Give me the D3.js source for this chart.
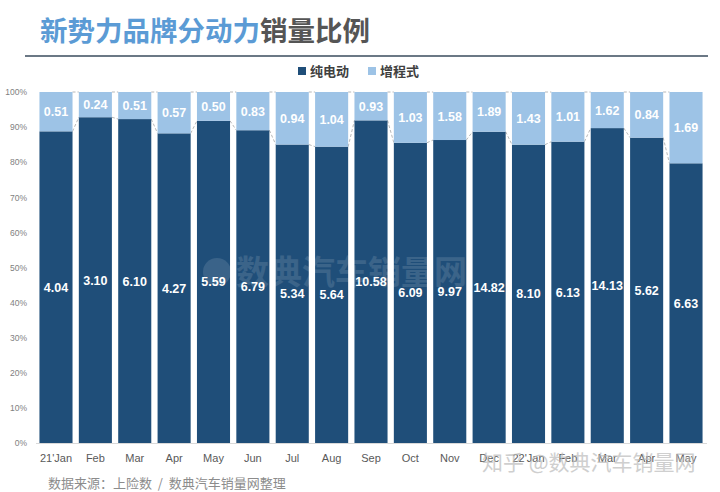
<!DOCTYPE html>
<html><head><meta charset="utf-8">
<script src="https://cdn.jsdelivr.net/npm/d3@7"></script>
<style>body{margin:0;background:#fff;}svg{display:block;font-family:"Noto Sans CJK SC","Liberation Sans",sans-serif;}</style>
</head><body><svg id="c" width="720" height="492"></svg>
<script>
const categories = ["21'Jan","Feb","Mar","Apr","May","Jun","Jul","Aug","Sep","Oct","Nov","Dec","22'Jan","Feb ","Mar ","Apr ","May "];
const bev = [4.04,3.10,6.10,4.27,5.59,6.79,5.34,5.64,10.58,6.09,9.97,14.82,8.10,6.13,14.13,5.62,6.63];
const erev = [0.51,0.24,0.51,0.57,0.50,0.83,0.94,1.04,0.93,1.03,1.58,1.89,1.43,1.01,1.62,0.84,1.69];
const seriesNames = ["纯电动","增程式"];
const yTicks = [0,0.1,0.2,0.3,0.4,0.5,0.6,0.7,0.8,0.9,1.0];
const colors = ["#1f4e79","#9dc3e6"];

const svg = d3.select("#c");
const x = d3.scaleBand().domain(categories).range([36.3,705.7]).paddingInner(0.16).paddingOuter(0.08);
const y = d3.scaleLinear().domain([0,1]).range([443,92]);

// title
const t = svg.append("text").attr("x",40).attr("y",41).attr("font-size",27.5).attr("font-weight","bold");
t.append("tspan").attr("fill","#5b9bd5").text("新势力品牌分动力");
t.append("tspan").attr("fill","#555").text("销量比例");
svg.append("line").attr("x1",25).attr("x2",708).attr("y1",56).attr("y2",56).attr("stroke","#6b7885").attr("stroke-width",2);

// legend
const lg = svg.append("g").attr("transform","translate(298,76)");
seriesNames.forEach((n,i)=>{
  const g = lg.append("g").attr("transform",`translate(${i*70},0)`);
  g.append("rect").attr("x",0).attr("y",-9).attr("width",8).attr("height",8).attr("fill",colors[i]);
  g.append("text").attr("x",12).attr("y",0).attr("font-size",13).attr("font-weight","bold").attr("fill","#404040").text(n);
});

// y axis
const ya = svg.append("g").attr("transform","translate(30,0)")
  .call(d3.axisLeft(y).tickValues(yTicks).tickFormat(d3.format(".0%")).tickSize(0));
ya.select(".domain").remove();
ya.selectAll("text").attr("font-size",8.5).attr("fill","#7f7f7f").attr("font-family","Liberation Sans, sans-serif");

// x axis
const xa = svg.append("g").attr("transform","translate(0,443)")
  .call(d3.axisBottom(x).tickSize(0).tickPadding(11));
xa.select(".domain").attr("stroke","#d9d9d9").attr("d","M36,0.5H707");
xa.selectAll("text").attr("font-size",11).attr("fill","#595959").attr("font-family","Liberation Sans, sans-serif");

const data = categories.map((c,i)=>({c, a:bev[i], b:erev[i], p:bev[i]/(bev[i]+erev[i])}));

// series lines
const sl = svg.append("g").attr("stroke","#a6a6a6").attr("stroke-width",0.8).attr("stroke-dasharray","3,2").attr("fill","none");
for(let i=0;i<data.length-1;i++){
  const x1 = x(data[i].c)+x.bandwidth(), x2 = x(data[i+1].c);
  sl.append("line").attr("x1",x1).attr("x2",x2).attr("y1",y(data[i].p)).attr("y2",y(data[i+1].p));
  sl.append("line").attr("x1",x1).attr("x2",x2).attr("y1",y(1)).attr("y2",y(1));
}

// bars
const g = svg.append("g");
g.selectAll(".d").data(data).join("rect").attr("x",d=>x(d.c)).attr("width",x.bandwidth())
  .attr("y",d=>y(d.p)).attr("height",d=>y(0)-y(d.p)).attr("fill",colors[0]);
g.selectAll(".l").data(data).join("rect").attr("x",d=>x(d.c)).attr("width",x.bandwidth())
  .attr("y",y(1)).attr("height",d=>y(d.p)-y(1)).attr("fill",colors[1]);

// labels
const lab = svg.append("g").attr("fill","#fff").attr("font-weight","bold").attr("text-anchor","middle").attr("font-family","Liberation Sans, sans-serif").attr("font-size",12.5);
lab.selectAll(".a").data(data).join("text").attr("x",d=>x(d.c)+x.bandwidth()/2).attr("y",d=>(y(0)+y(d.p))/2+4.5).text(d=>d.a.toFixed(2));
lab.selectAll(".b").data(data).join("text").attr("x",d=>x(d.c)+x.bandwidth()/2).attr("y",d=>(y(1)+y(d.p))/2+4.5).text(d=>d.b.toFixed(2));

// watermarks
svg.append("circle").attr("cx",217).attr("cy",272).attr("r",14).attr("fill","#fff").attr("opacity",0.12);
svg.append("text").attr("x",236).attr("y",284).attr("font-size",33).attr("font-weight","bold").attr("fill","#fff").attr("opacity",0.12).text("数典汽车销量网");
svg.append("text").attr("x",482).attr("y",470).attr("font-size",21).attr("fill","#bbb").attr("opacity",0.7).text("知乎 @数典汽车销量网");

// source
svg.append("text").attr("x",48).attr("y",488).attr("font-size",13).attr("fill","#8c8c8c").style("white-space","pre").text("数据来源：上险数  /  数典汽车销量网整理");
</script></body></html>
